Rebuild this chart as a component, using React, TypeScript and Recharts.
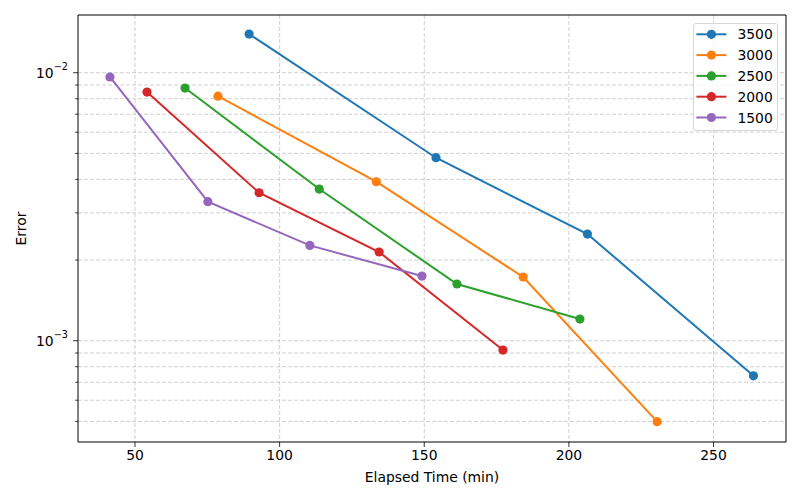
import React from 'react';
import { LineChart, Line, XAxis, YAxis, CartesianGrid, ReferenceLine } from 'recharts';

// Elapsed time (min) and error for each run size
const elapsed3500 = [89.45, 154.05, 206.4, 263.8];
const error3500 = [0.01394, 0.004818, 0.0025, 0.00074];

const elapsed3000 = [78.7, 133.4, 184.2, 230.5];
const error3000 = [0.008174, 0.00392, 0.001729, 0.000499];

const elapsed2500 = [67.3, 113.7, 161.3, 203.8];
const error2500 = [0.008768, 0.003681, 0.001628, 0.001205];

const elapsed2000 = [54.15, 92.9, 134.4, 177.2];
const error2000 = [0.008472, 0.003566, 0.002143, 0.000923];

const elapsed1500 = [41.35, 75.2, 110.45, 149.2];
const error1500 = [0.00964, 0.003302, 0.002268, 0.001743];

const seriesNames = ['3500', '3000', '2500', '2000', '1500'];
const seriesColors = ['#1f77b4', '#ff7f0e', '#2ca02c', '#d62728', '#9467bd'];
const seriesElapsed = [elapsed3500, elapsed3000, elapsed2500, elapsed2000, elapsed1500];
const seriesError = [error3500, error3000, error2500, error2000, error1500];

const xDomain = [30.3, 275.05];
const yDomain = [0.000419, 0.01642];
const xTicks = [50, 100, 150, 200, 250];
const yMajorTicks = [0.001, 0.01];
const yMinorTicks = [
  0.0005, 0.0006, 0.0007, 0.0008, 0.0009,
  0.002, 0.003, 0.004, 0.005, 0.006, 0.007, 0.008, 0.009,
];
const yTicks = [...yMinorTicks, ...yMajorTicks].sort((a, b) => a - b);

const series = seriesNames.map((name, i) => ({
  name,
  color: seriesColors[i],
  data: seriesElapsed[i].map((t, j) => ({ t, err: seriesError[i][j] })),
}));

const FONT = 'DejaVu Sans, sans-serif';
const GRID = '#c4c4c4';

const applyScale = (axis: any, v: number) => {
  const s = axis && axis.scale;
  if (!s) return NaN;
  if (typeof s === 'function') return s(v);
  if (typeof s.map === 'function') return s.map(v);
  return NaN;
};

const YTick = (props: any) => {
  const { x, y, payload } = props;
  const v = payload.value as number;
  const exp = Math.round(Math.log10(v));
  const isMajor = Math.abs(Math.pow(10, exp) - v) / v < 1e-6;
  const len = isMajor ? 4.9 : 2.8;
  return (
    <g>
      <line x1={x - len} x2={x} y1={y} y2={y} stroke="#000" strokeWidth={0.8} />
      {isMajor && (
        <text x={x - 10} y={y} textAnchor="end" fontFamily={FONT} fill="#000">
          <tspan fontSize={13.9} dy={5}>10</tspan>
          <tspan fontSize={9.7} dy={-8}>{'\u2212' + Math.abs(exp)}</tspan>
        </text>
      )}
    </g>
  );
};

const LegendBox = () => (
  <div
    style={{
      position: 'absolute',
      left: 693,
      top: 22.5,
      width: 85,
      height: 108,
      boxSizing: 'border-box',
      border: '1px solid #d6d6d6',
      borderRadius: 3,
      background: 'rgba(255,255,255,0.8)',
    }}
  >
    <svg width={85} height={108} style={{ position: 'absolute', left: -1, top: -1 }}>
      {series.map((s, i) => {
        const cy = 11.3 + i * 20.8;
        return (
          <g key={s.name}>
            <line x1={3.4} x2={33.4} y1={cy} y2={cy} stroke={s.color} strokeWidth={2} />
            <circle cx={18.4} cy={cy} r={4.6} fill={s.color} />
            <text x={44.4} y={cy + 5} fill="#000" fontFamily={FONT} fontSize={13.9}>
              {s.name}
            </text>
          </g>
        );
      })}
    </svg>
  </div>
);

export default function App() {
  return (
    <div style={{ position: 'absolute', left: 0, top: 0, width: 800, height: 500, background: '#fff' }}>
      <LineChart width={800} height={500} margin={{ top: 15, right: 14, bottom: 0, left: 0 }}>
        <CartesianGrid
          stroke={GRID}
          strokeDasharray="4 2"
          strokeWidth={0.8}
          verticalCoordinatesGenerator={({ xAxis }: any) => xTicks.map((t) => applyScale(xAxis, t))}
          horizontalCoordinatesGenerator={({ yAxis }: any) => yTicks.map((t) => applyScale(yAxis, t))}
        />
        <XAxis
          dataKey="t"
          type="number"
          domain={xDomain}
          ticks={xTicks}
          allowDataOverflow
          height={58}
          tickSize={5}
          tickMargin={3}
          axisLine={{ stroke: '#000', strokeWidth: 1 }}
          tickLine={{ stroke: '#000', strokeWidth: 0.8 }}
          tick={{ fill: '#000', fontSize: 13.9, fontFamily: FONT }}
          label={{ value: 'Elapsed Time (min)', position: 'insideBottom', offset: 18, fill: '#000', fontSize: 13.9, fontFamily: FONT }}
        />
        <YAxis
          dataKey="err"
          type="number"
          scale="log"
          domain={yDomain}
          ticks={yTicks}
          allowDataOverflow
          interval={0}
          width={78}
          tickSize={0}
          tickMargin={0}
          tickLine={false}
          axisLine={{ stroke: '#000', strokeWidth: 1 }}
          tick={<YTick />}
          label={{ value: 'Error', angle: -90, position: 'insideLeft', offset: 21, fill: '#000', fontSize: 13.9, fontFamily: FONT, style: { textAnchor: 'middle' } }}
        />
        {/* top and right edges of the frame */}
        <ReferenceLine y={yDomain[1]} stroke="#000" strokeWidth={1} ifOverflow="visible" />
        <ReferenceLine x={xDomain[1]} stroke="#000" strokeWidth={1} ifOverflow="visible" />
        {series.map((s) => (
          <Line
            key={s.name}
            data={s.data}
            dataKey="err"
            name={s.name}
            stroke={s.color}
            strokeWidth={2}
            dot={{ r: 4.6, fill: s.color, stroke: s.color, strokeWidth: 0 }}
            activeDot={false}
            isAnimationActive={false}
          />
        ))}
      </LineChart>
      <LegendBox />
    </div>
  );
}
